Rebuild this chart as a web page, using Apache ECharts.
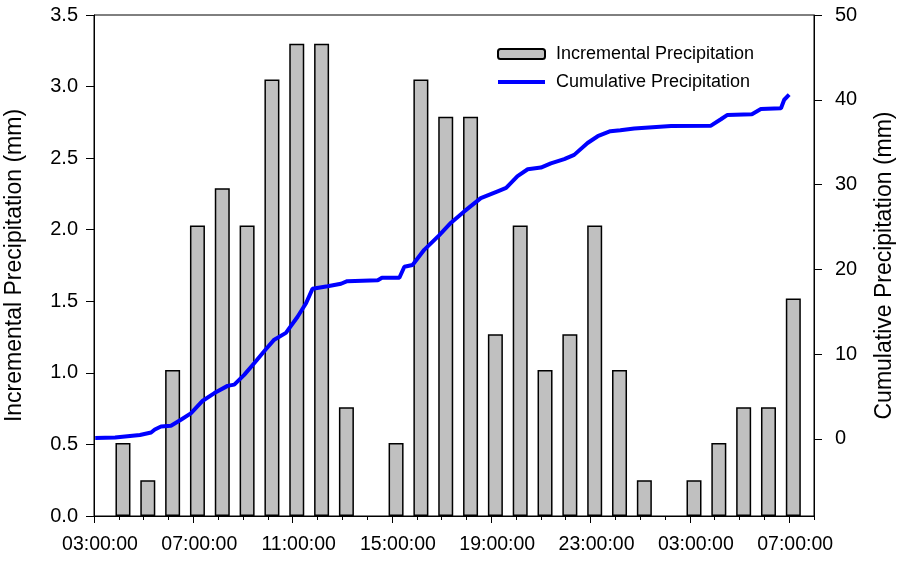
<!DOCTYPE html>
<html>
<head>
<meta charset="utf-8">
<script src="https://cdn.jsdelivr.net/npm/echarts@6/dist/echarts.min.js"></script>
<style>
  html, body { margin: 0; padding: 0; background: #fff; }
  #chart { width: 900px; height: 562px; }
</style>
</head>
<body>
<div id="chart"></div>
<script>
// hourly totals, clock time of each bar
const barTimes = [
  '04:10', '05:10', '06:10', '07:10', '08:10', '09:10', '10:10', '11:10', '12:10', '13:10',
  '15:10', '16:10', '17:10', '18:10', '19:10', '20:10', '21:10', '22:10', '23:10',
  '00:10', '01:10', '03:10', '04:10', '05:10', '06:10', '07:10'
];
const incremental = [
  0.51, 0.25, 1.02, 2.03, 2.29, 2.03, 3.05, 3.30, 3.30, 0.76,
  0.51, 3.05, 2.79, 2.79, 1.27, 2.03, 1.02, 1.27, 2.03,
  1.02, 0.25, 0.25, 0.51, 0.76, 0.76, 1.52
];

// cumulative trace: hours after 03:00 of day one, value in mm
const cumHours = [
  0.05, 0.85, 0.9, 1.85, 1.9, 2.3, 2.45, 2.7, 3.1, 3.5, 3.9, 4.38, 4.85, 5.38, 5.65,
  6.05, 6.46, 6.93, 7.26, 7.73, 8.2, 8.54, 8.8, 9.41, 9.95, 10.2, 11.43, 11.6, 12.3,
  12.5, 12.83, 13.3, 13.9, 14.38, 14.9, 15.58, 16.26, 16.6, 17.06, 17.47, 18.0, 18.4,
  18.94, 19.34, 19.88, 20.29, 20.8, 21.2, 21.76, 23.24, 24.85, 25.25, 25.5, 26.5,
  26.86, 27.67, 27.8, 28.0
];
const cumulative = [
  0.1, 0.15, 0.35, 0.45, 0.6, 0.75, 1.1, 1.45, 1.55, 2.25, 3.0, 4.5, 5.4, 6.25, 6.4,
  7.55, 8.95, 10.6, 11.7, 12.5, 14.4, 16.0, 17.7, 18.0, 18.3, 18.6, 18.7, 19.0, 19.0,
  20.3, 20.5, 22.3, 24.0, 25.5, 26.8, 28.4, 29.2, 29.6, 31.0, 31.8, 32.0, 32.5,
  33.0, 33.5, 34.9, 35.7, 36.3, 36.4, 36.6, 36.9, 36.95, 37.7, 38.2, 38.3,
  38.9, 39.0, 40.0, 40.6
];

const startHour = 3;      // axis starts 03:00:00
const spanHours = 29;     // ends 08:00:00 next day
const labelHours = [0, 4, 8, 12, 16, 20, 24, 28];
const cumTicks = [0, 10, 20, 30, 40, 50];

// clock string -> hours after start, rolling over midnight
const toHours = (times) => {
  let day = 0;
  let prev = -1;
  return times.map(t => {
    const [h, m] = t.split(':').map(Number);
    if (h < prev) day += 1;
    prev = h;
    return day * 24 + h + m / 60 - startHour;
  });
};

const clockLabel = v => {
  const h = (startHour + Math.round(v)) % 24;
  return String(h).padStart(2, '0') + ':00:00';
};

const barHours = toHours(barTimes);
const font = "'Liberation Sans', Arial, sans-serif";
const hourTicks = [];
for (let i = 0; i <= spanHours; i++) hourTicks.push(i);

const chart = echarts.init(document.getElementById('chart'));
chart.setOption({
  animation: false,
  textStyle: { fontFamily: font, color: '#000' },
  grid: {
    left: 94,
    right: 86,
    top: 15,
    bottom: 46,
    outerBoundsMode: 'none',
    show: true,
    borderColor: '#000',
    borderWidth: 1
  },
  legend: {
    orient: 'vertical',
    left: 497,
    top: 45,
    padding: 0,
    itemWidth: 47,
    itemHeight: 10,
    itemGap: 10,
    textStyle: { fontFamily: font, fontSize: 18, color: '#000', padding: [0, 0, 0, 6] },
    data: [
      { name: 'Incremental Precipitation' },
      { name: 'Cumulative Precipitation', icon: 'path://M0,0L47,0L47,4L0,4Z' }
    ]
  },
  xAxis: [
    {
      type: 'value',
      min: 0,
      max: spanHours,
      position: 'bottom',
      axisLine: { show: true, onZero: false, lineStyle: { color: '#000', width: 1 } },
      axisTick: { show: true, length: 7, customValues: labelHours, lineStyle: { color: '#000' } },
      axisLabel: {
        customValues: labelHours,
        formatter: clockLabel,
        fontFamily: font,
        fontSize: 19.5,
        color: '#000',
        margin: 19,
        padding: [0, 0, 0, 12]
      },
      splitLine: { show: false }
    },
    {
      type: 'value',
      min: 0,
      max: spanHours,
      position: 'bottom',
      axisLine: { show: false, onZero: false },
      axisTick: { show: true, length: 4, customValues: hourTicks, lineStyle: { color: '#000' } },
      axisLabel: { show: false },
      splitLine: { show: false }
    }
  ],
  yAxis: [
    {
      type: 'value',
      min: 0,
      max: 3.5,
      interval: 0.5,
      position: 'left',
      name: 'Incremental Precipitation (mm)',
      nameLocation: 'middle',
      nameGap: 68,
      nameTextStyle: { fontFamily: font, fontSize: 23, color: '#000' },
      axisLine: { show: true, onZero: false, lineStyle: { color: '#000' } },
      axisTick: { show: true, length: 8, lineStyle: { color: '#000' } },
      axisLabel: {
        formatter: v => v.toFixed(1),
        fontFamily: font,
        fontSize: 20,
        color: '#000',
        margin: 16
      },
      splitLine: { show: false }
    },
    {
      type: 'value',
      min: -9.1,
      max: 50,
      position: 'right',
      name: 'Cumulative Precipitation (mm)',
      nameLocation: 'middle',
      nameGap: 59,
      nameRotate: 90,
      nameTextStyle: { fontFamily: font, fontSize: 23, color: '#000' },
      axisLine: { show: true, onZero: false, lineStyle: { color: '#000' } },
      axisTick: { show: true, length: 8, customValues: cumTicks, lineStyle: { color: '#000' } },
      axisLabel: {
        customValues: cumTicks,
        formatter: v => String(Math.round(v)),
        fontFamily: font,
        fontSize: 20,
        color: '#000',
        margin: 21
      },
      splitLine: { show: false }
    }
  ],
  series: [
    {
      name: 'Incremental Precipitation',
      type: 'bar',
      xAxisIndex: 0,
      yAxisIndex: 0,
      barWidth: 15,
      itemStyle: { color: '#c0c0c0', borderColor: '#000', borderWidth: 1.5 },
      data: barHours.map((h, i) => [h, incremental[i]])
    },
    {
      name: 'Cumulative Precipitation',
      type: 'line',
      xAxisIndex: 0,
      yAxisIndex: 1,
      symbol: 'none',
      lineStyle: { color: '#0000ff', width: 4 },
      itemStyle: { color: '#0000ff' },
      data: cumHours.map((h, i) => [h, cumulative[i]])
    }
  ]
});
</script>
</body>
</html>
